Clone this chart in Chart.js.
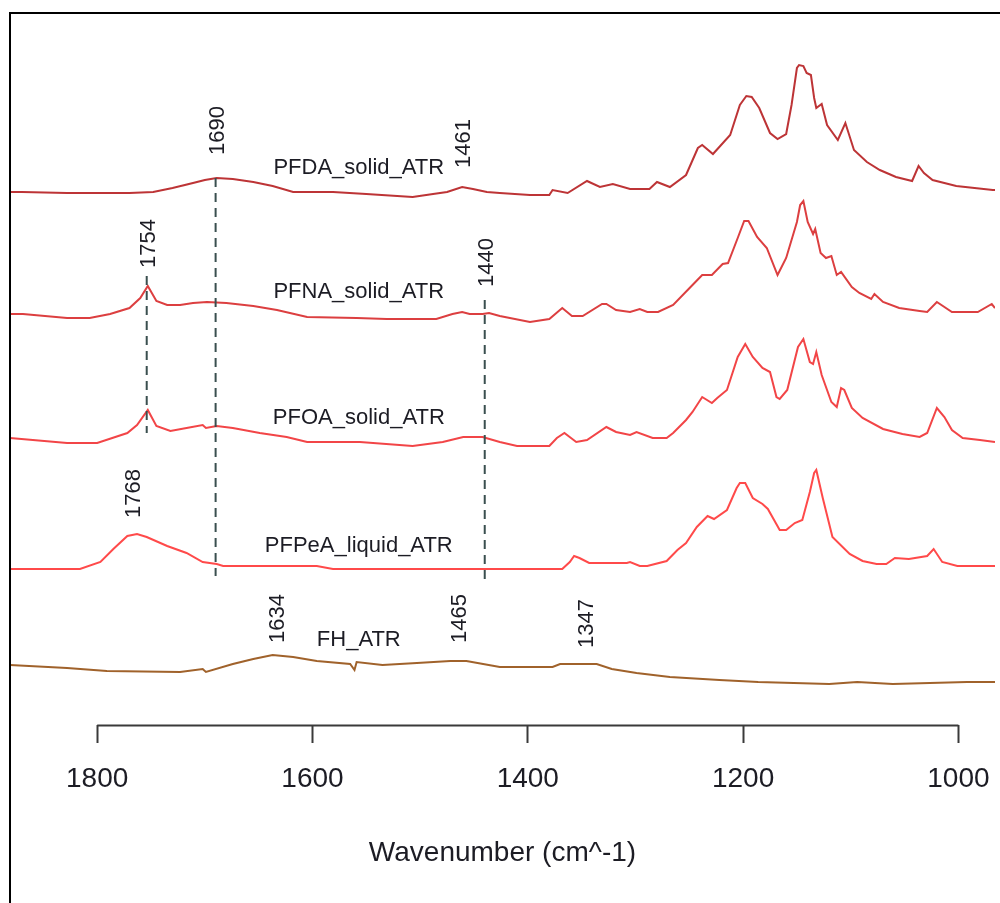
<!DOCTYPE html>
<html>
<head>
<meta charset="utf-8">
<script src="https://cdn.jsdelivr.net/npm/chart.js@4/dist/chart.umd.min.js"></script>
<style>
html,body{margin:0;padding:0;background:#fff;}
#wrap{width:1000px;height:903px;position:relative;}
</style>
</head>
<body>
<div id="wrap"><canvas id="c" width="1000" height="903"></canvas></div>
<script>
// ---------- DATA ----------
const seriesNames = ['PFDA_solid_ATR', 'PFNA_solid_ATR', 'PFOA_solid_ATR', 'PFPeA_liquid_ATR', 'FH_ATR'];
const seriesOffsets = [5.33, 4.07, 2.83, 1.56, 0.55];

const pfdaWn = [1881,1870,1828,1770,1748,1730,1711,1700,1689,1674,1655,1637,1618,1581,1550,1507,1488,1475,1461,1451,1438,1426,1398,1380,1377,1363,1345,1333,1321,1305,1287,1280,1268,1253,1242,1238,1228,1212,1203,1197,1192,1185,1175,1168,1160,1155,1150,1148,1144,1141,1137,1134,1132,1127,1122,1112,1105,1097,1085,1073,1058,1043,1037,1032,1024,1002,968,966];
const pfdaAbs = [0.00,0.00,-0.01,-0.01,0.00,0.04,0.09,0.12,0.14,0.13,0.10,0.06,0.00,0.00,-0.02,-0.05,-0.02,0.00,0.05,0.03,0.00,-0.01,-0.03,-0.03,0.02,-0.01,0.11,0.05,0.08,0.03,0.03,0.10,0.05,0.17,0.44,0.47,0.38,0.57,0.87,0.96,0.95,0.84,0.59,0.53,0.58,0.87,1.24,1.27,1.26,1.19,1.17,0.94,0.84,0.88,0.67,0.52,0.69,0.42,0.30,0.22,0.15,0.11,0.26,0.19,0.12,0.06,0.02,0.02];

const pfnaWn = [1881,1869,1828,1807,1788,1770,1760,1753,1745,1735,1723,1711,1698,1680,1655,1633,1605,1559,1531,1485,1470,1461,1454,1442,1436,1426,1398,1380,1368,1359,1349,1331,1327,1318,1305,1296,1289,1279,1265,1247,1238,1229,1219,1214,1205,1199,1195,1187,1178,1168,1160,1150,1147,1144,1140,1135,1133,1128,1123,1118,1113,1109,1099,1092,1081,1078,1070,1055,1036,1029,1020,1006,982,969,966];
const pfnaAbs = [0.04,0.04,0.00,0.00,0.04,0.10,0.20,0.32,0.17,0.13,0.13,0.15,0.16,0.15,0.12,0.08,0.01,0.00,-0.01,-0.01,0.04,0.06,0.04,0.04,0.05,0.02,-0.04,-0.01,0.10,0.02,0.02,0.14,0.14,0.08,0.06,0.09,0.06,0.06,0.13,0.33,0.43,0.43,0.54,0.55,0.80,0.97,0.97,0.81,0.70,0.43,0.60,0.96,1.13,1.17,0.96,0.84,0.89,0.65,0.60,0.62,0.43,0.46,0.31,0.25,0.19,0.24,0.16,0.10,0.07,0.06,0.16,0.06,0.06,0.14,0.10];

const pfoaWn = [1881,1828,1800,1772,1763,1753,1745,1732,1717,1702,1699,1689,1674,1649,1624,1605,1556,1507,1479,1460,1442,1426,1410,1380,1373,1366,1355,1345,1327,1318,1305,1299,1284,1271,1265,1253,1247,1238,1229,1224,1215,1205,1198,1191,1182,1175,1169,1166,1159,1149,1144,1138,1135,1132,1127,1118,1113,1109,1106,1099,1089,1070,1052,1036,1029,1020,1013,1006,996,980,966];
const pfoaAbs = [0.04,-0.01,-0.01,0.09,0.17,0.32,0.16,0.11,0.14,0.17,0.14,0.16,0.14,0.09,0.05,0.00,0.00,-0.04,0.00,0.05,0.05,0.00,-0.04,-0.04,0.04,0.09,0.00,0.02,0.15,0.10,0.07,0.10,0.04,0.04,0.09,0.22,0.30,0.45,0.39,0.44,0.52,0.85,0.98,0.85,0.74,0.70,0.45,0.43,0.52,0.95,1.03,0.80,0.78,0.90,0.67,0.40,0.35,0.54,0.52,0.34,0.24,0.13,0.08,0.05,0.09,0.34,0.25,0.12,0.04,0.02,0.00];

const pfpeaWn = [1881,1816,1797,1785,1772,1763,1754,1735,1717,1702,1689,1683,1596,1581,1426,1368,1361,1357,1352,1343,1308,1305,1296,1289,1271,1261,1253,1243,1233,1227,1215,1206,1203,1198,1191,1182,1177,1166,1160,1152,1145,1138,1134,1132,1126,1117,1101,1089,1076,1067,1059,1046,1029,1023,1015,1001,966];
const pfpeaAbs = [0.00,0.00,0.07,0.20,0.33,0.35,0.32,0.23,0.16,0.07,0.05,0.03,0.03,0.00,0.00,0.00,0.07,0.13,0.11,0.06,0.06,0.07,0.03,0.03,0.08,0.19,0.26,0.42,0.53,0.50,0.59,0.81,0.86,0.86,0.71,0.65,0.60,0.39,0.39,0.46,0.49,0.77,0.96,0.99,0.71,0.32,0.15,0.08,0.05,0.05,0.11,0.10,0.13,0.20,0.07,0.03,0.03];

const fhWn = [1881,1828,1791,1723,1702,1699,1674,1655,1637,1618,1596,1565,1561,1559,1535,1503,1472,1457,1426,1377,1370,1336,1322,1299,1268,1222,1186,1120,1094,1061,992,966];
const fhAbs = [0.05,0.02,-0.01,-0.02,0.01,-0.02,0.06,0.11,0.15,0.13,0.09,0.06,0.00,0.08,0.05,0.07,0.09,0.09,0.03,0.03,0.06,0.06,0.01,-0.03,-0.07,-0.10,-0.12,-0.14,-0.12,-0.14,-0.12,-0.12];

const seriesWn = [pfdaWn, pfnaWn, pfoaWn, pfpeaWn, fhWn];
const seriesAbs = [pfdaAbs, pfnaAbs, pfoaAbs, pfpeaAbs, fhAbs];

// series name labels (wavenumber, y level)
const seriesLabelWn = 1557;
const seriesLabelY = [5.575, 4.333, 3.067, 1.792, 0.853];

// peak annotations
const peakText = ['1690', '1461', '1754', '1440', '1768', '1634', '1465', '1347'];
const peakWn = [1690, 1461, 1754, 1440, 1768, 1634, 1465, 1347];
const peakLabelY = [5.70, 5.57, 4.57, 4.38, 2.07, 0.82, 0.82, 0.77];

// dashed marker lines
const dashWn = [1690, 1754, 1440];
const dashTop = [5.47, 4.49, 4.25];
const dashBottom = [1.49, 2.92, 1.45];

// x axis
const tickValues = [1800, 1600, 1400, 1200, 1000];
const xRange = [966, 1881];
const yRange = [0, 7.12];
const xTitle = 'Wavenumber (cm^-1)';

// ---------- STYLE ----------
const seriesColors = ['#BD3436', '#DC3F40', '#F24547', '#FF4A4A', '#A0622B'];
const FONT = '"Liberation Sans", Arial, sans-serif';

const datasets = [];
dashWn.forEach((w, i) => {
  datasets.push({
    data: [{x: w, y: dashTop[i]}, {x: w, y: dashBottom[i]}],
    borderColor: '#3A4F4F', borderWidth: 2, borderDash: [9, 6],
    pointRadius: 0, tension: 0, order: 0
  });
});
seriesWn.forEach((wn, s) => {
  const n = Math.min(wn.length, seriesAbs[s].length);
  const pts = [];
  for (let i = 0; i < n; i++) pts.push({x: wn[i], y: seriesAbs[s][i] + seriesOffsets[s]});
  datasets.push({
    label: seriesNames[s], data: pts, borderColor: seriesColors[s],
    borderWidth: 2, pointRadius: 0, tension: 0, order: 1
  });
});

const decorPlugin = {
  id: 'decor',
  beforeDraw(chart) {
    const c = chart.ctx;
    c.save(); c.fillStyle = '#fff'; c.fillRect(0, 0, chart.width, chart.height); c.restore();
  },
  afterDatasetsDraw(chart) {
    const c = chart.ctx, xs = chart.scales.x, ys = chart.scales.y;
    c.save();
    c.strokeStyle = '#3a3a3a'; c.lineWidth = 2;
    const yb = Math.round(chart.chartArea.bottom) + 0.5;
    c.beginPath();
    c.moveTo(xs.getPixelForValue(tickValues[0]), yb);
    c.lineTo(xs.getPixelForValue(tickValues[tickValues.length - 1]), yb);
    c.stroke();
    c.fillStyle = '#1c1c24';
    c.font = '22px ' + FONT;
    c.textAlign = 'center'; c.textBaseline = 'middle';
    seriesNames.forEach((nm, i) => {
      c.fillText(nm, xs.getPixelForValue(seriesLabelWn), ys.getPixelForValue(seriesLabelY[i]));
    });
    c.textAlign = 'left'; c.textBaseline = 'middle';
    peakText.forEach((t, i) => {
      c.save();
      c.translate(xs.getPixelForValue(peakWn[i]) + 2, ys.getPixelForValue(peakLabelY[i]));
      c.rotate(-Math.PI / 2);
      c.fillText(t, 0, 0);
      c.restore();
    });
    c.restore();
  },
  afterDraw(chart) {
    const c = chart.ctx;
    c.save();
    c.strokeStyle = '#000'; c.lineWidth = 2;
    c.beginPath();
    c.moveTo(10, chart.height); c.lineTo(10, 13); c.lineTo(chart.width, 13);
    c.stroke();
    c.restore();
  }
};

new Chart(document.getElementById('c'), {
  type: 'line',
  data: {datasets},
  plugins: [decorPlugin],
  options: {
    responsive: false,
    devicePixelRatio: 1,
    animation: false,
    events: [],
    layout: {padding: {left: 10, right: 5, top: 13, bottom: 0}},
    plugins: {legend: {display: false}, tooltip: {enabled: false}, title: {display: false}},
    scales: {
      x: {
        type: 'linear', reverse: true, min: xRange[0], max: xRange[1],
        afterBuildTicks(scale) { scale.ticks = tickValues.map(v => ({value: v})); },
        afterFit(scale) {
          scale.height = 903 - 725;
          scale.paddingLeft = 0; scale.paddingRight = 0;
        },
        grid: {drawOnChartArea: false, drawTicks: true, tickLength: 18, tickWidth: 2, tickColor: '#3a3a3a'},
        border: {display: false},
        ticks: {
          padding: 19, color: '#1c1c24', maxRotation: 0, autoSkip: false,
          font: {family: FONT, size: 28},
          callback: v => String(v)
        },
        title: {
          display: true, text: xTitle, color: '#1c1c24',
          font: {family: FONT, size: 28}, padding: {top: 0, bottom: 33}
        }
      },
      y: {type: 'linear', display: false, min: yRange[0], max: yRange[1]}
    }
  }
});
</script>
</body>
</html>
